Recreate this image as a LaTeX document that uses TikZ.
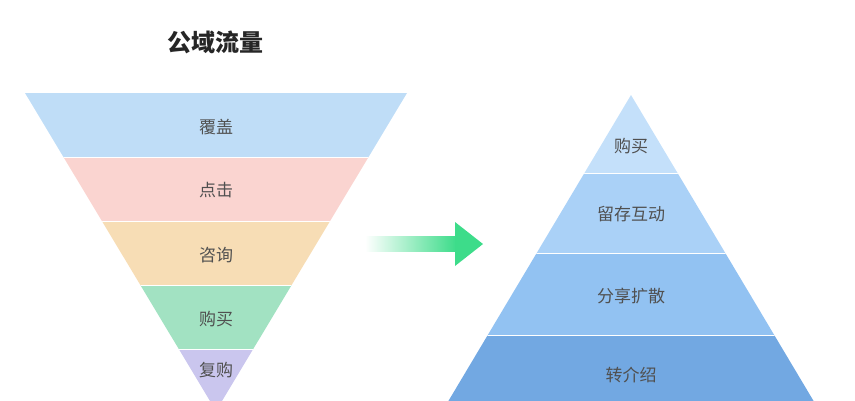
\documentclass[tikz,border=0pt]{standalone}
\usepackage{fontspec}
\newfontfamily\cjk{Noto Sans CJK SC}
\definecolor{cA}{HTML}{BFDDF7}\definecolor{cB}{HTML}{FAD4D0}\definecolor{cC}{HTML}{F7DDB5}
\definecolor{cD}{HTML}{A2E2C2}\definecolor{cE}{HTML}{CAC6EE}
\definecolor{rA}{HTML}{C4E0FA}\definecolor{rB}{HTML}{AAD1F7}\definecolor{rC}{HTML}{92C2F2}\definecolor{rD}{HTML}{72A8E2}
\definecolor{txt}{HTML}{505050}\definecolor{arr}{HTML}{3DDC8A}
\tikzset{lbl/.style={font=\cjk\fontsize{17}{19}\selectfont, text=txt}}
\begin{document}
\begin{tikzpicture}[x=1pt,y=-1pt]
\useasboundingbox (0,0) rectangle (855,400);
\clip (0,0) rectangle (855,400);
\node[font=\cjk\bfseries\fontsize{24}{26}\selectfont, text=black!85] (title) at (215,42) {公域流量};
\begin{scope}
\clip (25,93) -- (407,93) -- (216,411) -- cycle;
\fill[cA] (0,93) rectangle (855,157);
\fill[cB] (0,157) rectangle (855,221);
\fill[cC] (0,221) rectangle (855,285);
\fill[cD] (0,285) rectangle (855,349);
\fill[cE] (0,349) rectangle (855,420);
\foreach \y in {157,221,285,349}{\draw[white,line width=0.8pt] (0,\y)--(855,\y);}
\end{scope}
\node[lbl] (a1) at (216,127) {覆盖};
\node[lbl] (a2) at (216,190) {点击};
\node[lbl] (a3) at (216,255) {咨询};
\node[lbl] (a4) at (216,319) {购买};
\node[lbl] (a5) at (216,370) {复购};
\begin{scope}
\clip (631,95) -- (446,405) -- (816,405) -- cycle;
\fill[rA] (0,90) rectangle (855,173);
\fill[rB] (0,173) rectangle (855,253);
\fill[rC] (0,253) rectangle (855,335);
\fill[rD] (0,335) rectangle (855,420);
\foreach \y in {173,253,335}{\draw[white,line width=0.8pt] (0,\y)--(855,\y);}
\end{scope}
\node[lbl] (b1) at (631,146) {购买};
\node[lbl] (b2) at (631,214) {留存互动};
\node[lbl] (b3) at (631,296) {分享扩散};
\node[lbl] (b4) at (631,375) {转介绍};
\shade[left color=white, right color=arr] (365,236.5) rectangle (456,251.5);
\fill[arr] (455,222) -- (483,244) -- (455,266) -- cycle;
\end{tikzpicture}
\end{document}
